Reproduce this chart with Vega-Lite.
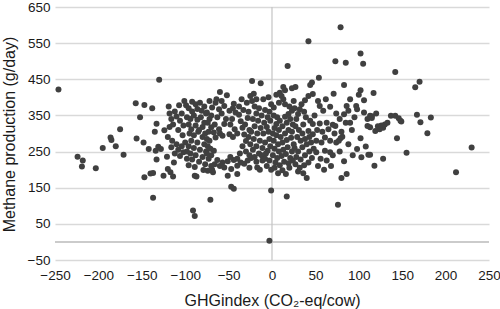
{
  "$schema": "https://vega.github.io/schema/vega-lite/v6.json",
  "width": 434,
  "height": 253,
  "autosize": {"type": "none"},
  "padding": {"left": 55, "top": 7, "right": 11, "bottom": 49},
  "background": "white",
  "config": {
    "view": {"stroke": null},
    "font": "Liberation Sans",
    "axis": {"labelFont": "Liberation Sans", "titleFont": "Liberation Sans", "labelColor": "#1a1a1a", "titleColor": "#1a1a1a", "titleFontWeight": "normal", "labelFontSize": 13.5, "titleFontSize": 16, "domain": false, "ticks": false, "labelOverlap": false, "labelFlush": false, "tickCount": 30}
  },
  "layer": [
    {
      "data": {"values": [{"y": 0}]},
      "mark": {"type": "rule", "color": "#cbcbcb", "strokeWidth": 2},
      "encoding": {"y": {"field": "y", "type": "quantitative"}}
    },
    {
      "data": {"values": [{"x": 0}]},
      "mark": {"type": "rule", "color": "#c4c4c4", "strokeWidth": 1.2},
      "encoding": {"x": {"field": "x", "type": "quantitative"}}
    },
    {
      "data": {"values": [
        {"x":-246,"y":422},{"x":-224,"y":236},{"x":-218,"y":225},{"x":-219,"y":209},{"x":-203,"y":204},{"x":-195,"y":260},{"x":-186,"y":289},{"x":-185,"y":282},{"x":-180,"y":265},{"x":-175,"y":312},{"x":-171,"y":241},{"x":-157,"y":384},{"x":-152,"y":345},{"x":-147,"y":379},{"x":-156,"y":286},{"x":-148,"y":275},{"x":-147,"y":179},{"x":-142,"y":257},{"x":-140,"y":189},{"x":-137,"y":191},{"x":-138,"y":370},{"x":-135,"y":305},{"x":-133,"y":327},{"x":-137,"y":122},{"x":-134,"y":252},{"x":-133,"y":228},{"x":-130,"y":449},
        {"x":-131,"y":263},{"x":-128,"y":257},{"x":-124,"y":309},{"x":-125,"y":183},{"x":-121,"y":236},{"x":-120,"y":202},{"x":-117,"y":193},{"x":-114,"y":181},{"x":-113,"y":220},
        {"x":-118,"y":355},{"x":-112,"y":361},{"x":-104,"y":355},{"x":-116,"y":340},{"x":-110,"y":347},{"x":-106,"y":335},{"x":-114,"y":325},{"x":-102,"y":322},{"x":-118,"y":318},{"x":-108,"y":310},{"x":-120,"y":290},{"x":-115,"y":280},{"x":-110,"y":270},{"x":-104,"y":265},{"x":-116,"y":262},{"x":-108,"y":255},{"x":-112,"y":245},{"x":-102,"y":248},{"x":-106,"y":238},{"x":-100,"y":275},{"x":-103,"y":295},{"x":-119,"y":375},{"x":-107,"y":378},{"x":-101,"y":390},
        {"x":-92,"y":388},{"x":-88,"y":381},{"x":-83,"y":385},{"x":-92,"y":361},{"x":-81,"y":363},{"x":-87,"y":181},{"x":-79,"y":199},{"x":-89,"y":183},{"x":-68,"y":193},
        {"x":-95,"y":300},{"x":-90,"y":295},{"x":-85,"y":305},{"x":-80,"y":290},{"x":-77,"y":300},{"x":-93,"y":280},{"x":-86,"y":275},{"x":-78,"y":270},{"x":-96,"y":265},{"x":-90,"y":260},{"x":-83,"y":255},{"x":-76,"y":250},{"x":-94,"y":245},{"x":-88,"y":240},{"x":-80,"y":235},{"x":-92,"y":228},{"x":-84,"y":222},{"x":-77,"y":215},{"x":-96,"y":212},{"x":-89,"y":207},{"x":-98,"y":230},{"x":-98,"y":250},
        {"x":-98,"y":345},{"x":-94,"y":340},{"x":-90,"y":350},{"x":-86,"y":338},{"x":-82,"y":345},{"x":-78,"y":330},{"x":-96,"y":325},{"x":-88,"y":322},{"x":-80,"y":318},{"x":-93,"y":312},{"x":-84,"y":310},{"x":-76,"y":355},{"x":-96,"y":370},{"x":-86,"y":368},{"x":-78,"y":375},{"x":-99,"y":378},
        {"x":-91,"y":87},{"x":-89,"y":72},{"x":-71,"y":117},
        {"x":-72,"y":390},{"x":-69,"y":372},{"x":-75,"y":358},{"x":-72,"y":340},{"x":-65,"y":385},{"x":-61,"y":367},{"x":-55,"y":376},{"x":-60,"y":415},{"x":-52,"y":406},{"x":-70,"y":317},{"x":-67,"y":303},{"x":-61,"y":312},{"x":-55,"y":326},{"x":-57,"y":294},{"x":-65,"y":289},{"x":-67,"y":252},{"x":-63,"y":227},{"x":-57,"y":220},{"x":-51,"y":223},{"x":-55,"y":206},{"x":-74,"y":197},{"x":-69,"y":200},{"x":-51,"y":183},
        {"x":-74,"y":330},{"x":-70,"y":350},{"x":-63,"y":345},{"x":-58,"y":355},{"x":-53,"y":340},{"x":-66,"y":325},{"x":-73,"y":305},{"x":-60,"y":300},{"x":-72,"y":280},{"x":-74,"y":265},{"x":-70,"y":240},{"x":-73,"y":230},{"x":-66,"y":215},{"x":-60,"y":210},{"x":-70,"y":210},{"x":-64,"y":395},{"x":-58,"y":390},{"x":-75,"y":245},{"x":-71,"y":258},{"x":-75,"y":285},
        {"x":-49,"y":363},{"x":-44,"y":382},{"x":-42,"y":358},{"x":-38,"y":352},{"x":-36,"y":334},{"x":-34,"y":316},{"x":-32,"y":297},{"x":-30,"y":279},{"x":-34,"y":265},{"x":-28,"y":343},{"x":-49,"y":298},{"x":-44,"y":227},{"x":-36,"y":220},{"x":-28,"y":225},{"x":-47,"y":202},{"x":-40,"y":211},{"x":-32,"y":216},{"x":-24,"y":232},{"x":-40,"y":188},{"x":-47,"y":153},{"x":-44,"y":147},{"x":-26,"y":205},{"x":-25,"y":404},{"x":-23,"y":390},{"x":-23,"y":445},
        {"x":-46,"y":340},{"x":-48,"y":325},{"x":-43,"y":312},{"x":-40,"y":300},{"x":-45,"y":290},{"x":-38,"y":375},{"x":-33,"y":365},{"x":-29,"y":385},{"x":-27,"y":360},{"x":-31,"y":325},{"x":-26,"y":310},{"x":-27,"y":290},{"x":-25,"y":270},{"x":-37,"y":245},{"x":-30,"y":250},{"x":-26,"y":240},{"x":-45,"y":370},{"x":-35,"y":395},{"x":-40,"y":230},{"x":-48,"y":235},
        {"x":-13,"y":439},{"x":-1,"y":381},{"x":-11,"y":225},{"x":-17,"y":206},{"x":-3,"y":285},{"x":-5,"y":252},{"x":-7,"y":245},{"x":-1,"y":142},{"x":-3,"y":3},
        {"x":-20,"y":375},{"x":-15,"y":370},{"x":-8,"y":365},{"x":-3,"y":360},{"x":-18,"y":355},{"x":-12,"y":350},{"x":-5,"y":345},{"x":-22,"y":340},{"x":-16,"y":335},{"x":-9,"y":330},{"x":-2,"y":335},{"x":-20,"y":320},{"x":-13,"y":315},{"x":-6,"y":318},{"x":-24,"y":305},{"x":-17,"y":300},{"x":-10,"y":300},{"x":-4,"y":305},{"x":-21,"y":285},{"x":-14,"y":280},{"x":-8,"y":275},{"x":-18,"y":265},{"x":-11,"y":260},{"x":-2,"y":265},{"x":-22,"y":255},{"x":-15,"y":245},{"x":-20,"y":235},{"x":-12,"y":240},{"x":-8,"y":230},{"x":-3,"y":225},{"x":-18,"y":222},{"x":-6,"y":210},{"x":-14,"y":200},{"x":-1,"y":200},{"x":-10,"y":395},{"x":-4,"y":400},{"x":-18,"y":395},{"x":-21,"y":410},
        {"x":13,"y":429},{"x":15,"y":420},{"x":9,"y":413},{"x":5,"y":407},{"x":11,"y":404},{"x":13,"y":395},{"x":15,"y":381},{"x":23,"y":425},{"x":23,"y":363},{"x":19,"y":354},{"x":15,"y":346},{"x":9,"y":335},{"x":5,"y":326},{"x":18,"y":487},{"x":17,"y":126},
        {"x":2,"y":350},{"x":6,"y":345},{"x":3,"y":315},{"x":8,"y":310},{"x":12,"y":320},{"x":17,"y":330},{"x":21,"y":340},{"x":24,"y":325},{"x":1,"y":300},{"x":5,"y":295},{"x":10,"y":290},{"x":15,"y":300},{"x":19,"y":310},{"x":23,"y":305},{"x":2,"y":280},{"x":7,"y":270},{"x":12,"y":275},{"x":17,"y":282},{"x":22,"y":288},{"x":25,"y":270},{"x":3,"y":258},{"x":8,"y":250},{"x":13,"y":255},{"x":18,"y":262},{"x":23,"y":250},{"x":1,"y":240},{"x":6,"y":232},{"x":11,"y":238},{"x":16,"y":243},{"x":21,"y":232},{"x":4,"y":220},{"x":9,"y":212},{"x":14,"y":222},{"x":19,"y":218},{"x":24,"y":225},{"x":3,"y":205},{"x":12,"y":198},{"x":20,"y":205},{"x":7,"y":190},{"x":16,"y":188},{"x":2,"y":372},{"x":8,"y":385},{"x":20,"y":375},{"x":25,"y":390},
        {"x":27,"y":429},{"x":38,"y":392},{"x":42,"y":404},{"x":47,"y":409},{"x":46,"y":441},{"x":44,"y":434},{"x":34,"y":381},{"x":32,"y":367},{"x":30,"y":354},{"x":28,"y":340},{"x":44,"y":335},{"x":47,"y":326},{"x":42,"y":307},{"x":47,"y":298},{"x":40,"y":177},{"x":42,"y":555},
        {"x":27,"y":320},{"x":31,"y":310},{"x":36,"y":325},{"x":39,"y":345},{"x":35,"y":300},{"x":29,"y":290},{"x":33,"y":280},{"x":38,"y":285},{"x":43,"y":290},{"x":26,"y":260},{"x":30,"y":250},{"x":35,"y":262},{"x":40,"y":270},{"x":45,"y":275},{"x":28,"y":235},{"x":33,"y":228},{"x":38,"y":240},{"x":43,"y":250},{"x":48,"y":258},{"x":27,"y":215},{"x":32,"y":205},{"x":37,"y":212},{"x":42,"y":220},{"x":46,"y":232},{"x":30,"y":195},{"x":36,"y":190},{"x":26,"y":370},{"x":37,"y":360},{"x":49,"y":350},
        {"x":54,"y":454},{"x":53,"y":390},{"x":55,"y":376},{"x":59,"y":363},{"x":67,"y":374},{"x":55,"y":328},{"x":63,"y":330},{"x":70,"y":324},{"x":51,"y":280},{"x":57,"y":275},{"x":61,"y":289},{"x":67,"y":280},{"x":67,"y":248},{"x":51,"y":248},{"x":61,"y":252},{"x":74,"y":275},{"x":73,"y":500},{"x":79,"y":594},
        {"x":52,"y":310},{"x":58,"y":305},{"x":65,"y":312},{"x":72,"y":300},{"x":56,"y":230},{"x":63,"y":225},{"x":70,"y":240},{"x":53,"y":210},{"x":60,"y":200},{"x":68,"y":210},{"x":74,"y":355},{"x":62,"y":395},{"x":71,"y":410},
        {"x":85,"y":496},{"x":83,"y":434},{"x":90,"y":395},{"x":86,"y":376},{"x":88,"y":363},{"x":83,"y":353},{"x":97,"y":376},{"x":98,"y":367},{"x":85,"y":330},{"x":90,"y":330},{"x":73,"y":321},{"x":77,"y":280},{"x":79,"y":287},{"x":81,"y":291},{"x":98,"y":257},{"x":83,"y":223},{"x":86,"y":188},{"x":80,"y":177},{"x":76,"y":103},{"x":100,"y":407},{"x":102,"y":420},
        {"x":95,"y":345},{"x":78,"y":340},{"x":92,"y":310},{"x":80,"y":305},{"x":88,"y":270},{"x":93,"y":240},{"x":78,"y":250},
        {"x":102,"y":521},{"x":105,"y":493},{"x":106,"y":392},{"x":106,"y":358},{"x":110,"y":340},{"x":113,"y":349},{"x":110,"y":321},{"x":113,"y":317},{"x":119,"y":307},{"x":102,"y":287},{"x":108,"y":264},{"x":103,"y":234},{"x":111,"y":241},{"x":118,"y":211},{"x":117,"y":412},{"x":115,"y":348},{"x":115,"y":343},{"x":113,"y":241},{"x":120,"y":355},
        {"x":122,"y":320},{"x":126,"y":322},{"x":128,"y":316},{"x":124,"y":312},{"x":130,"y":325},
        {"x":128,"y":230},{"x":133,"y":330},{"x":137,"y":349},{"x":142,"y":349},{"x":148,"y":335},{"x":144,"y":287},{"x":146,"y":342},{"x":149,"y":333},{"x":142,"y":470},{"x":155,"y":247},
        {"x":165,"y":428},{"x":170,"y":443},{"x":167,"y":352},{"x":171,"y":331},{"x":183,"y":344},{"x":179,"y":301},{"x":230,"y":261},{"x":212,"y":193}
      ]},
      "mark": {"type": "point", "filled": true, "opacity": 1, "color": "#404040", "size": 36},
      "encoding": {
        "x": {"field": "x", "type": "quantitative", "scale": {"domain": [-250, 250], "nice": false, "zero": false},
          "axis": {"values": [-250, -200, -150, -100, -50, 0, 50, 100, 150, 200, 250], "tickCount": 30, "grid": false, "labelPadding": 8, "title": "GHGindex (CO₂-eq/cow)", "titleX": 217, "titleY": 40, "titleBaseline": "middle", "titleAlign": "center"}},
        "y": {"field": "y", "type": "quantitative", "scale": {"domain": [-50, 650], "nice": false, "zero": false},
          "axis": {"values": [-50, 50, 150, 250, 350, 450, 550, 650], "tickCount": 30, "grid": true, "gridColor": "#d9d9d9", "gridWidth": 1.5, "labelPadding": 5, "title": "Methane production (g/day)", "titleX": -46, "titleY": 127, "titleAngle": 270, "titleBaseline": "middle", "titleAlign": "center"}}
      }
    }
  ]
}
